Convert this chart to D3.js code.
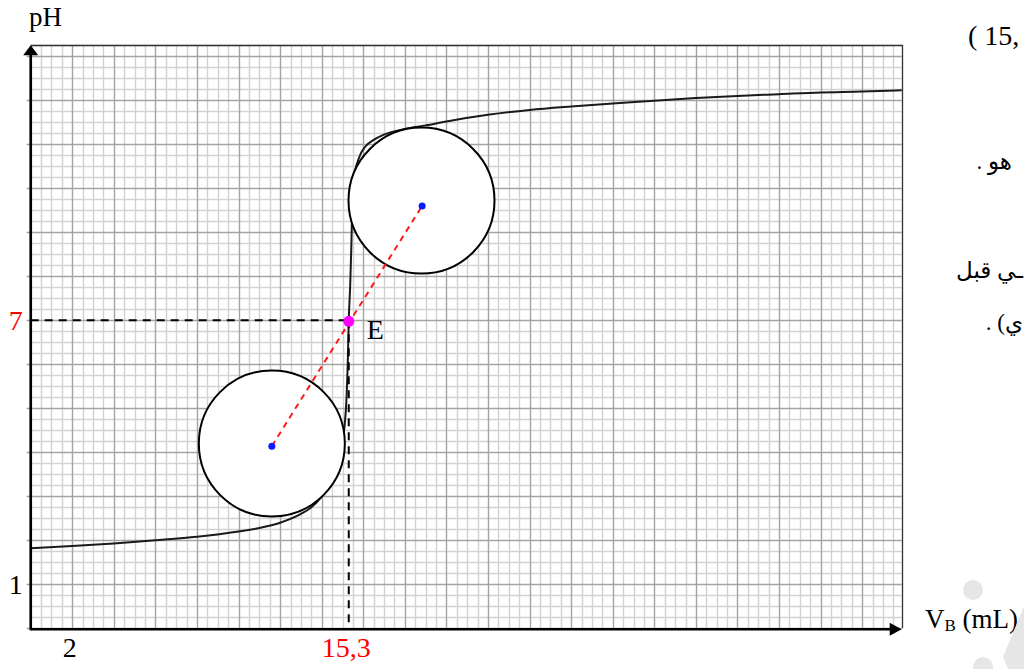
<!DOCTYPE html>
<html>
<head>
<meta charset="utf-8">
<script src="https://cdn.jsdelivr.net/npm/d3@7"></script>
<style>
  html, body { margin: 0; padding: 0; background: #fff; overflow: hidden; }
  #wrap { position: relative; width: 1024px; height: 669px; }
  svg { display: block; position: absolute; left: 0; top: 0; }
  text { font-family: "Liberation Serif", "Times New Roman", "DejaVu Serif", serif; }
  .side { position: absolute; white-space: nowrap; line-height: 1; color: #000;
          font-family: "Liberation Serif", "DejaVu Sans", serif; }
</style>
</head>
<body>
<div id="wrap">
<svg id="chart" width="1024" height="669"></svg>
</div>
<script>
// Titration curve: pH against added base volume V_B (mL)
const volume = [0, 2, 4, 6, 8, 10, 11, 12, 13, 13.5, 14, 14.5, 14.8, 15.0, 15.1, 15.2, 15.25,
  15.3, 15.37, 15.42, 15.45, 15.5, 15.6, 15.8, 16.1, 16.5, 17, 18, 19, 20, 22, 24, 26, 28,
  30, 32, 34, 36, 38, 40, 41.9];
const pH = [1.82, 1.87, 1.93, 2.0, 2.08, 2.2, 2.28, 2.4, 2.6, 2.75, 3.0, 3.4, 3.9, 4.3, 4.6, 5.3, 6.0,
  7.0, 7.8, 8.6, 9.2, 9.9, 10.35, 10.7, 10.95, 11.1, 11.22, 11.35, 11.43, 11.52, 11.67, 11.78, 11.86, 11.93,
  11.99, 12.05, 12.1, 12.14, 12.18, 12.2, 12.23];

// Equivalence point E
const equivV = 15.3;
const equivPH = 7;

// Centres of the two tangent circles (V, pH)
const circleV = [11.6, 18.8];
const circlePH = [4.2, 9.72];
// Centres joined by the construction line
const centreV = [11.6, 18.83];
const centrePH = [4.14, 9.6];

// Axis labels
const xTickValues = [2, 15.3];
const xTickText = ["2", "15,3"];
const yTickValues = [1, 7];
const yTickText = ["1", "7"];

// Fragments of the page text beside the graph (logical order)
const sideText = ["( 15,", "هو .", "ـي قبل", "ي) ."];
const sideDir = ["ltr", "rtl", "rtl", "rtl"];

const svg = d3.select("#chart");

const x = d3.scaleLinear().domain([0, 41.9]).range([30.7, 901.7]);
const y = d3.scaleLinear().domain([0, 13.25]).range([628.3, 45.3]);
const px = v => Math.round(v) + 0.5;

// Graph paper
const grid = svg.append("g");
const minorX = d3.range(0, 41.9, 0.5);
const minorY = d3.range(0, 13.26, 0.25);
const isMajorX = d => Math.abs(d % 2) < 1e-6;
const isMajorY = d => Math.abs(d % 1) < 1e-6;
grid.selectAll("line.vx").data(minorX.filter(d => !isMajorX(d))).join("line")
  .attr("x1", d => px(x(d))).attr("x2", d => px(x(d)))
  .attr("y1", y(0)).attr("y2", y(13.25))
  .attr("stroke", "#d2d2d2").attr("stroke-width", 1.4);
grid.selectAll("line.hy").data(minorY.filter(d => !isMajorY(d))).join("line")
  .attr("x1", x(0)).attr("x2", x(41.9))
  .attr("y1", d => px(y(d))).attr("y2", d => px(y(d)))
  .attr("stroke", "#d2d2d2").attr("stroke-width", 1.4);
grid.selectAll("line.vxm").data(minorX.filter(isMajorX)).join("line")
  .attr("x1", d => px(x(d))).attr("x2", d => px(x(d)))
  .attr("y1", y(0)).attr("y2", y(13.25))
  .attr("stroke", "#a4a4a4").attr("stroke-width", 1.4);
grid.selectAll("line.hym").data(minorY.filter(isMajorY)).join("line")
  .attr("x1", x(0) - 4).attr("x2", x(41.9))
  .attr("y1", d => px(y(d))).attr("y2", d => px(y(d)))
  .attr("stroke", "#a4a4a4").attr("stroke-width", 1.4);
// Sheet border (top and right)
grid.append("path")
  .attr("d", `M${x(0)},${px(y(13.25))}H${px(x(41.9))}V${y(0)}`)
  .attr("fill", "none").attr("stroke", "#333").attr("stroke-width", 1.3);

// Titration curve
const pts = volume.map((v, i) => [v, pH[i]]);
svg.append("path")
  .datum(pts)
  .attr("d", d3.line().x(d => x(d[0])).y(d => y(d[1])).curve(d3.curveMonotoneX))
  .attr("fill", "none").attr("stroke", "#1a1a1a").attr("stroke-width", 2);

// Tangent circles
svg.selectAll("circle.tan").data(circleV).join("circle")
  .attr("cx", d => x(d)).attr("cy", (d, i) => y(circlePH[i]))
  .attr("r", 73)
  .attr("fill", "#fff").attr("stroke", "#000").attr("stroke-width", 2);

// Projection lines from E onto the axes
svg.append("line")
  .attr("x1", x(0)).attr("x2", x(equivV)).attr("y1", y(equivPH)).attr("y2", y(equivPH))
  .attr("stroke", "#000").attr("stroke-width", 2).attr("stroke-dasharray", "8,6");
svg.append("line")
  .attr("x1", x(equivV)).attr("x2", x(equivV)).attr("y1", y(equivPH)).attr("y2", y(0))
  .attr("stroke", "#000").attr("stroke-width", 2).attr("stroke-dasharray", "8,6");

// Line joining the circle centres
svg.append("line")
  .attr("x1", x(centreV[0])).attr("y1", y(centrePH[0]))
  .attr("x2", x(centreV[1])).attr("y2", y(centrePH[1]))
  .attr("stroke", "#ff1a1a").attr("stroke-width", 2).attr("stroke-dasharray", "6,5");
svg.selectAll("circle.ctr").data(centreV).join("circle")
  .attr("cx", d => x(d)).attr("cy", (d, i) => y(centrePH[i]))
  .attr("r", 3.5).attr("fill", "#0a1aff");

// Point E
svg.append("circle")
  .attr("cx", x(equivV)).attr("cy", y(equivPH) + 1).attr("r", 5.5).attr("fill", "#ff00ff");
svg.append("text")
  .attr("x", x(equivV) + 18).attr("y", y(equivPH) + 19)
  .attr("font-size", 28).attr("fill", "#000").text("E");

// Axes with arrows
svg.append("line")
  .attr("x1", x(0)).attr("x2", x(41.9) - 10).attr("y1", y(0) + 1).attr("y2", y(0) + 1)
  .attr("stroke", "#000").attr("stroke-width", 2.6);
svg.append("path")
  .attr("d", `M${x(41.9)},${y(0) + 1}l-12,-6.5v13z`).attr("fill", "#000");
svg.append("line")
  .attr("x1", x(0)).attr("x2", x(0)).attr("y1", y(0) + 2).attr("y2", y(13.25) + 9)
  .attr("stroke", "#000").attr("stroke-width", 2.6);
svg.append("path")
  .attr("d", `M${x(0)},${y(13.25)}l-7.5,10h15z`).attr("fill", "#000");

// Tick labels
const xAxis = d3.axisBottom(x).tickValues(xTickValues)
  .tickFormat((d, i) => xTickText[i]).tickSize(0).tickPadding(7);
const gx = svg.append("g").attr("transform", `translate(-3,${y(0) + 2})`).call(xAxis);
gx.select(".domain").remove();
gx.selectAll("text").attr("font-size", 28).attr("font-family", "Liberation Serif")
  .attr("fill", (d, i) => (i === 1 ? "#ff0000" : "#000"));

const yAxis = d3.axisLeft(y).tickValues(yTickValues)
  .tickFormat((d, i) => yTickText[i]).tickSize(0).tickPadding(8);
const gy = svg.append("g").attr("transform", `translate(${x(0)},0)`).call(yAxis);
gy.select(".domain").remove();
gy.selectAll("text").attr("font-size", 28).attr("font-family", "Liberation Serif")
  .attr("fill", (d, i) => (i === 1 ? "#ff0000" : "#000"));

// Axis titles
svg.append("text").attr("x", 29).attr("y", 26).attr("font-size", 27).text("pH");
const vb = svg.append("text").attr("x", 925).attr("y", 628).attr("font-size", 27);
vb.append("tspan").text("V");
vb.append("tspan").attr("font-size", 17).attr("dy", 3).text("B");
vb.append("tspan").attr("dy", -3).text(" (mL)");

// Faint decorative marks in the lower right corner
const deco = svg.append("g").attr("fill", "#e6e6e6");
deco.append("circle").attr("cx", 973).attr("cy", 590).attr("r", 10);
deco.append("circle").attr("cx", 983).attr("cy", 667).attr("r", 10);
deco.append("path").attr("d", "M1003,657L1024,606V669H1008Z");

// Page text beside the graph, laid out as HTML so bidi ordering is handled;
// left-to-right lines are pinned by their left edge, Arabic lines by their right edge
const sideLeft = [968, null, null, null];
const sideRight = [null, 12, 1, 1];
const sideTop = [22, 150, 259, 311];
const sideSize = [28, 23, 23, 23];
d3.select("#wrap").selectAll("div.side").data(sideText).join("div")
  .attr("class", "side")
  .attr("dir", (d, i) => sideDir[i])
  .style("left", (d, i) => (sideLeft[i] === null ? null : sideLeft[i] + "px"))
  .style("right", (d, i) => (sideRight[i] === null ? null : sideRight[i] + "px"))
  .style("top", (d, i) => sideTop[i] + "px")
  .style("font-size", (d, i) => sideSize[i] + "px")
  .text(d => d);
</script>
</body>
</html>
